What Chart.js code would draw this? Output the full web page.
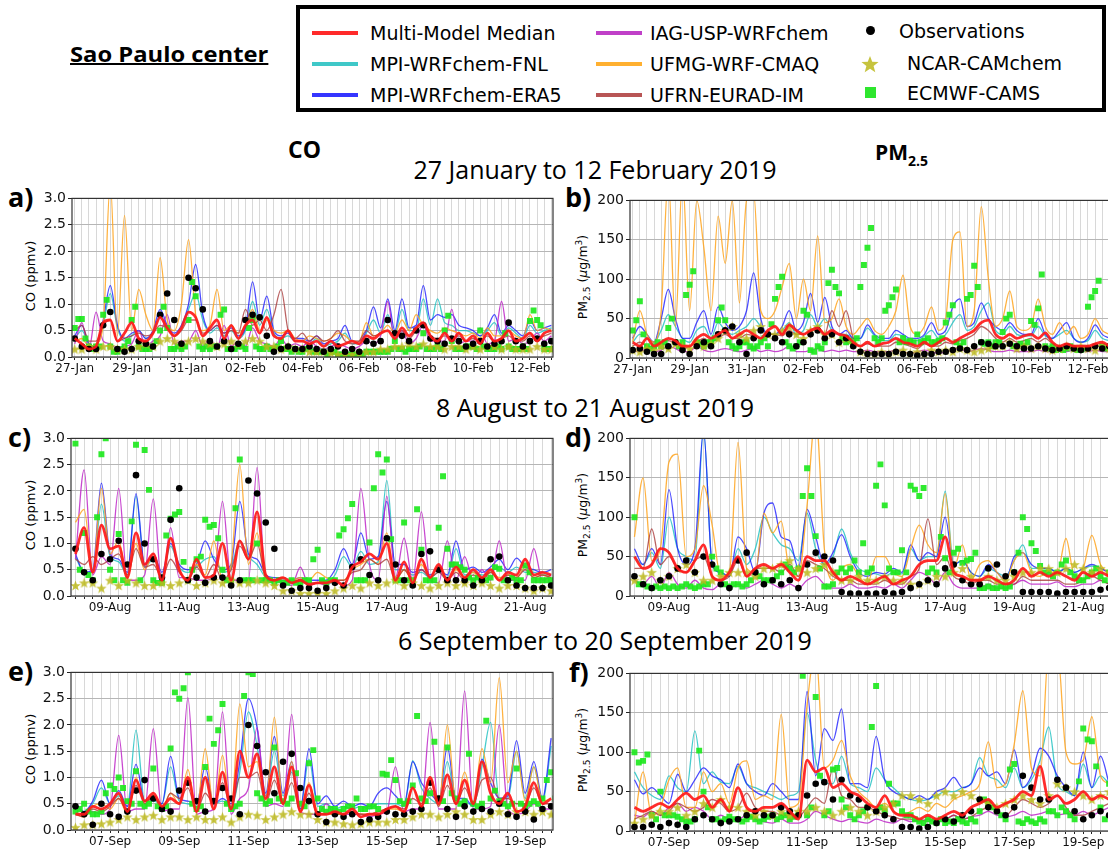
<!DOCTYPE html>
<html>
<head>
<meta charset="utf-8">
<script src="https://cdn.jsdelivr.net/npm/chart.js@4"></script>
<style>
  body { margin: 0; width: 1108px; height: 852px; overflow: hidden; position: relative; background: #fff; font-family: 'DejaVu Sans', sans-serif; color: #000; }
  .abs { position: absolute; white-space: nowrap; }
  #legend { position: absolute; left: 296px; top: 5px; width: 802px; height: 99px; border: 4px solid #000; }
  .lg-line { position: absolute; height: 4px; width: 46px; }
  .lg-text { position: absolute; font-size: 19px; line-height: 22px; white-space: nowrap; }
  .title { position: absolute; width: 600px; text-align: center; font-family: 'Open Sans', sans-serif; font-size: 25px; line-height: 28px; }
  .letter { position: absolute; font-family: 'Open Sans', sans-serif; font-weight: bold; font-size: 27px; line-height: 30px; }
  .ylab { position: absolute; transform: translate(-50%, -50%) rotate(-90deg); white-space: nowrap; font-size: 13px; }
</style>
</head>
<body>

<div class="abs" style="left:70px; top:38px; font-family:'Open Sans',sans-serif; font-weight:bold; font-size:22px; text-decoration:underline; text-decoration-thickness:2px; transform:scaleX(1.08); transform-origin:left;">Sao Paulo center</div>

<div id="legend">
  <div class="lg-line" style="left:12px; top:22px; background:#ff2a2a;"></div>
  <div class="lg-text" style="left:70px; top:13px;">Multi-Model Median</div>
  <div class="lg-line" style="left:12px; top:53px; background:#3fc8c8;"></div>
  <div class="lg-text" style="left:70px; top:44px;">MPI-WRFchem-FNL</div>
  <div class="lg-line" style="left:12px; top:84px; background:#3535ff;"></div>
  <div class="lg-text" style="left:70px; top:75px;">MPI-WRFchem-ERA5</div>

  <div class="lg-line" style="left:296px; top:22px; background:#c040c8;"></div>
  <div class="lg-text" style="left:350px; top:13px;">IAG-USP-WRFchem</div>
  <div class="lg-line" style="left:296px; top:53px; background:#ffb030;"></div>
  <div class="lg-text" style="left:350px; top:44px;">UFMG-WRF-CMAQ</div>
  <div class="lg-line" style="left:296px; top:84px; background:#b85555;"></div>
  <div class="lg-text" style="left:350px; top:75px;">UFRN-EURAD-IM</div>

  <div style="position:absolute; left:566px; top:17px; width:9px; height:9px; border-radius:50%; background:#000;"></div>
  <div class="lg-text" style="left:599px; top:11px;">Observations</div>
  <canvas id="lgStar" width="18" height="18" style="position:absolute; left:561px; top:46px;"></canvas>
  <div class="lg-text" style="left:607px; top:43px;">NCAR-CAMchem</div>
  <div style="position:absolute; left:565px; top:78px; width:11px; height:11px; background:#2ee62e;"></div>
  <div class="lg-text" style="left:607px; top:73px;">ECMWF-CAMS</div>
</div>

<div class="abs" style="left:288px; top:133px; font-family:'Open Sans',sans-serif; font-weight:bold; font-size:23px;">CO</div>
<div class="abs" style="left:875px; top:138px; font-family:'Open Sans',sans-serif; font-weight:bold; font-size:21px;">PM<span style="font-size:14px; position:relative; top:6px;">2.5</span></div>

<div class="title" style="left:295px; top:155px;">27 January to 12 February 2019</div>
<div class="title" style="left:295px; top:393px;">8 August to 21 August 2019</div>
<div class="title" style="left:305px; top:626px;">6 September to 20 September 2019</div>

<div class="letter" style="left:8px; top:182px;">a)</div>
<div class="letter" style="left:565px; top:182px;">b)</div>
<div class="letter" style="left:8px; top:422px;">c)</div>
<div class="letter" style="left:565px; top:422px;">d)</div>
<div class="letter" style="left:8px; top:656px;">e)</div>
<div class="letter" style="left:569px; top:657px;">f)</div>

<div class="ylab" style="left:30px; top:276px;">CO (ppmv)</div>
<div class="ylab" style="left:30px; top:515px;">CO (ppmv)</div>
<div class="ylab" style="left:30px; top:749px;">CO (ppmv)</div>
<div class="ylab" style="left:583px; top:277px; font-size:12.5px;">PM<sub style="font-size:9px;">2.5</sub> (<i>μ</i>g/m<sup style="font-size:9px;">3</sup>)</div>
<div class="ylab" style="left:583px; top:515px; font-size:12.5px;">PM<sub style="font-size:9px;">2.5</sub> (<i>μ</i>g/m<sup style="font-size:9px;">3</sup>)</div>
<div class="ylab" style="left:583px; top:750px; font-size:12.5px;">PM<sub style="font-size:9px;">2.5</sub> (<i>μ</i>g/m<sup style="font-size:9px;">3</sup>)</div>

<script>
// tick labels (one every 48 h)
const janTicks = ['27-Jan', '29-Jan', '31-Jan', '02-Feb', '04-Feb', '06-Feb', '08-Feb', '10-Feb', '12-Feb'];
const augTicks = ['09-Aug', '11-Aug', '13-Aug', '15-Aug', '17-Aug', '19-Aug', '21-Aug'];
const sepTicks = ['07-Sep', '09-Sep', '11-Sep', '13-Sep', '15-Sep', '17-Sep', '19-Sep'];

// ---- 27 Jan - 12 Feb, CO (ppmv), 6-hourly (CAMS 3-hourly)
const janCoMedian = [0.35,0.25,0.15,0.2, 0.65,0.7,0.3,0.45, 0.65,0.35,0.3,0.45, 0.75,0.55,0.4,0.55, 0.85,0.75,0.4,0.55, 0.7,0.35,0.6,0.35, 0.6,0.7,0.45,0.75, 0.4,0.35,0.5,0.3,
  0.3,0.25,0.3,0.2, 0.3,0.2,0.25,0.3, 0.25,0.4,0.35,0.45, 0.5,0.35,0.55,0.4, 0.55,0.65,0.4,0.3, 0.45,0.3,0.45,0.3, 0.4,0.25,0.45,0.3, 0.35,0.5,0.3,0.35, 0.45,0.3,0.45,0.5];
const janCoFnl = [0.35,0.5,0.25,0.2, 0.6,1.2,0.55,0.3, 0.4,0.5,0.35,0.45, 0.8,0.55,0.4,0.55, 0.9,1.2,0.7,0.45, 0.55,0.4,0.5,0.35, 0.5,1.05,0.6,0.9, 0.45,0.35,0.4,0.3,
  0.3,0.25,0.35,0.2, 0.25,0.3,0.45,0.25, 0.25,0.45,0.7,0.45, 0.8,0.45,0.9,0.5, 0.5,1.1,0.6,1.1, 0.65,0.6,0.5,0.5, 0.45,0.4,0.5,0.65, 0.4,0.55,0.45,0.35, 0.6,0.45,0.5,0.55];
const janCoEra5 = [0.4,0.6,0.25,0.2, 0.7,1.35,0.6,0.35, 0.45,0.5,0.35,0.5, 0.9,0.6,0.45,0.6, 1.0,1.75,0.8,0.5, 0.6,0.45,0.55,0.4, 0.55,1.42,0.7,1.15, 0.5,0.4,0.45,0.35,
  0.35,0.3,0.4,0.25, 0.3,0.35,0.6,0.3, 0.3,0.5,0.95,0.55, 1.1,0.5,1.1,0.55, 0.6,1.35,0.7,0.8, 0.75,0.8,0.6,0.55, 0.5,0.4,0.55,0.8, 0.45,0.6,0.5,0.4, 0.7,0.5,0.55,0.6];
const janCoIag = [0.25,0.65,0.15,0.85, 0.3,0.25,0.15,0.2, 0.25,0.5,0.2,0.3, 0.4,0.8,0.25,0.3, 0.3,0.5,0.2,0.35, 0.15,0.6,0.2,0.3, 0.2,0.55,0.3,0.25, 0.2,0.35,0.2,0.25,
  0.2,0.3,0.2,0.15, 0.2,0.25,0.2,0.15, 0.2,0.3,0.25,0.4, 1.05,0.3,0.5,0.25, 0.35,0.6,0.3,0.3, 0.3,0.9,0.25,0.3, 0.3,0.55,0.25,0.3, 1.05,0.3,0.35,0.25, 0.3,0.45,0.3,0.4];
const janCoUfmg = [0.3,0.35,0.2,0.25, 0.6,3.3,0.4,2.68, 0.5,1.28,0.8,0.5, 1.88,0.7,0.5,1.0, 2.22,0.8,0.5,0.6, 1.28,0.5,0.6,0.45, 0.6,0.9,0.5,0.7, 0.5,0.45,0.5,0.35,
  0.3,0.4,0.35,0.3, 0.35,0.45,0.4,0.3, 0.3,0.65,0.4,0.45, 0.6,0.45,0.7,0.5, 0.8,0.6,0.5,0.45, 0.55,0.5,0.45,0.4, 0.45,0.35,0.55,0.4, 0.4,0.5,0.4,0.35, 0.8,0.5,0.55,0.5];
const janCoUfrn = [0.5,0.6,0.3,0.3, 0.6,0.7,0.3,0.35, 0.4,0.45,0.4,0.45, 0.6,0.55,0.4,0.5, 0.7,0.7,0.45,0.5, 0.6,0.45,0.5,0.45, 0.9,0.6,0.7,0.5, 0.8,1.28,0.5,0.35,
  0.45,0.3,0.4,0.3, 0.35,0.5,0.3,0.25, 0.3,0.5,0.4,0.45, 0.5,0.4,0.5,0.35, 0.5,0.6,0.4,0.35, 0.4,0.35,0.4,0.3, 0.35,0.3,0.4,0.3, 0.35,0.4,0.3,0.3, 0.4,0.35,0.4,0.45];
const janCoObs = [0.35,0.2,0.15,0.15, 0.6,0.85,0.15,0.1, 0.15,0.3,0.25,0.2, 0.8,1.2,0.7,0.25, 1.5,1.3,0.9,0.3, 0.2,0.3,0.15,0.25, 0.7,0.8,0.75,0.4, 0.1,0.15,0.2,0.15,
  0.15,0.2,0.15,0.1, 0.15,0.2,0.1,0.15, 0.1,0.3,0.25,0.3, 0.7,0.45,0.4,0.3, 0.5,0.6,0.35,0.3, 0.25,0.35,0.3,0.2, 0.25,0.3,0.2,0.25, 0.3,0.65,0.3,0.2, 0.3,0.35,0.25,0.3];
const janCoNcar = [0.15,0.15,0.2,0.15, 0.2,0.2,0.15,0.15, 0.15,0.2,0.25,0.2, 0.3,0.35,0.3,0.25, 0.3,0.35,0.3,0.25, 0.2,0.25,0.3,0.25, 0.3,0.35,0.3,0.2, 0.2,0.15,0.2,0.15,
  0.15,0.1,0.1,0.1, 0.08,0.05,0.05,0.05, 0.08,0.1,0.1,0.15, 0.15,0.2,0.2,0.25, 0.2,0.25,0.2,0.2, 0.15,0.2,0.2,0.15, 0.2,0.15,0.2,0.2, 0.15,0.2,0.15,0.15, 0.15,0.2,0.15,0.15];
const janCoCams = [0.55,0.72,0.72,0.35,0.2,0.15,0.2,0.2, 0.8,1.08,0.2,0.1,0.1,0.15,0.2,0.3, 0.7,0.95,0.2,0.15,0.15,0.15,0.2,0.3, 0.5,0.95,0.55,0.15,0.15,0.2,0.15,0.2,
  0.7,1.42,1.15,0.2,0.15,0.2,0.15,0.2, 0.2,0.8,0.9,0.15,0.15,0.15,0.2,0.2, 0.15,0.55,0.7,0.2,0.15,0.15,0.2,0.15, 0.15,0.2,0.3,0.15,0.15,0.1,0.15,0.1,
  0.1,0.15,0.2,0.1,0.1,0.1,0.1,0.05, 0.1,0.1,0.05,0.05,0.05,0.05,0.05,0.05, 0.05,0.05,0.1,0.1,0.1,0.1,0.1,0.1, 0.1,0.15,0.3,0.15,0.15,0.1,0.15,0.15,
  0.15,0.2,0.45,0.15,0.15,0.15,0.2,0.15, 0.5,0.78,0.3,0.15,0.15,0.15,0.2,0.2, 0.2,0.15,0.5,0.2,0.15,0.15,0.15,0.2, 0.15,0.45,0.2,0.15,0.15,0.15,0.2,0.15,
  0.68,0.88,0.7,0.6,0.15,0.15,0.15,0.15];

// ---- 27 Jan - 12 Feb, PM2.5 (ug/m3)
const janPmMedian = [20,15,25,15, 20,25,22,15, 15,25,30,25, 30,35,25,30, 35,30,25,35, 40,30,42,35, 30,35,38,30, 35,30,28,20,
  15,20,15,18, 20,25,20,18, 15,20,15,20, 25,20,25,30, 35,45,48,30, 25,30,25,28, 30,25,32,20, 15,18,15,15, 15,18,20,15];
const janPmFnl = [20,30,25,20, 35,55,40,25, 20,35,40,25, 45,35,30,35, 40,50,40,30, 30,35,45,30, 35,55,40,50, 35,30,30,25,
  25,38,28,22, 22,30,28,22, 22,28,35,25, 30,45,55,35, 40,60,70,35, 30,40,30,28, 28,40,28,25, 30,35,25,20, 22,35,25,22];
const janPmEra5 = [25,40,30,20, 50,87,50,25, 25,45,60,30, 65,45,35,40, 60,108,50,30, 30,40,60,35, 45,82,45,77, 40,30,35,25,
  25,42,30,25, 25,35,30,25, 25,30,45,30, 35,65,75,40, 45,70,50,40, 35,45,35,30, 30,50,30,25, 35,45,25,20, 25,42,30,25];
const janPmIag = [10,8,12,8, 10,15,12,8, 8,15,10,8, 10,12,10,8, 10,12,8,10, 8,10,15,8, 8,10,12,8, 10,8,10,8,
  8,10,8,8, 8,10,8,6, 8,10,8,6, 8,10,12,8, 10,12,10,8, 8,10,8,8, 8,10,8,8, 10,8,10,8, 8,10,8,8];
const janPmUfmg = [20,60,30,20, 60,230,40,230, 60,200,140,60, 180,120,200,70, 200,210,60,50, 60,90,120,50, 100,60,155,45, 50,75,40,30,
  40,50,35,30, 40,60,105,40, 30,40,65,35, 50,150,160,40, 60,192,100,40, 50,85,40,35, 40,75,40,30, 45,30,40,25, 30,50,35,30];
const janPmUfrn = [15,20,15,12, 20,22,18,12, 15,20,25,20, 25,30,25,25, 30,28,25,30, 30,28,35,30, 30,35,40,30, 60,40,60,25,
  15,18,15,15, 15,20,18,15, 12,18,15,15, 20,18,22,25, 30,40,35,25, 20,25,20,22, 25,20,25,18, 12,15,12,12, 12,15,15,12];
const janPmObs = [10,12,8,5, 5,15,20,10, 5,15,20,15, 30,35,40,20, 5,25,35,30, 25,20,30,15, 20,30,35,25, 30,20,25,15,
  8,5,5,5, 5,8,5,5, 3,5,5,8, 8,10,12,10, 15,20,18,15, 15,18,15,12, 12,15,12,10, 12,15,12,10, 12,15,12,15];
const janPmNcar = [10,8,12,10, 15,12,18,15, 12,20,15,18, 25,35,40,30, 25,35,40,30, 30,35,40,30, 25,35,40,30, 30,20,25,18,
  8,6,5,8, 5,8,10,6, 8,5,10,8, 10,8,12,10, 8,10,12,15, 15,20,12,15, 12,15,12,10, 12,15,12,15, 12,10,15,12];
const janPmCams = [35,48,72,30,15,12,15,20, 15,20,38,50,20,15,20,80, 93,110,20,18,15,20,20,25, 48,64,48,20,15,12,15,20,
  20,15,12,15,20,25,15,43, 75,90,103,20,15,12,15,20, 60,55,10,8,15,12,20,95, 112,90,82,25,20,22,20,25,
  90,118,140,165,25,20,25,60, 67,77,87,20,25,20,22,20, 30,20,22,25,20,20,22,25, 45,55,67,20,15,20,75,80,
  117,90,20,18,20,15,20,20, 33,50,55,15,15,18,15,20, 47,42,63,106,15,12,15,10, 12,10,12,15,12,10,10,12,
  65,77,85,98,15,12,15,15];

// ---- 8 Aug - 21 Aug, CO
const augCoMedian = [0.8,1.3,0.45,1.35, 0.9,0.95,0.35,1.2, 0.6,0.8,0.3,1.1, 0.5,0.3,0.7,0.35, 0.4,1.0,0.3,1.05, 0.7,1.6,0.4,0.3, 0.35,0.25,0.3,0.22,
  0.25,0.25,0.3,0.2, 0.55,0.65,0.8,0.7, 1.0,0.3,0.65,0.25, 0.7,0.35,0.6,0.3, 0.55,0.35,0.5,0.35, 0.5,0.3,0.45,0.4, 0.7,0.4,0.45,0.4];
const augCoFnl = [0.75,0.45,0.45,1.75, 0.75,0.65,0.4,1.9, 0.55,0.7,0.4,0.95, 0.55,0.45,0.55,0.7, 0.75,0.45,0.55,1.05, 0.75,0.6,0.35,0.3, 0.3,0.25,0.3,0.25,
  0.25,0.25,0.4,0.75, 0.55,0.85,0.6,0.65, 2.2,0.5,0.5,0.4, 0.45,0.35,0.45,0.35, 0.9,0.4,0.45,0.4, 0.45,0.55,0.45,0.55, 0.45,0.45,0.4,0.4];
const augCoEra5 = [0.8,0.45,0.5,2.15, 0.8,0.7,0.45,1.95, 0.6,0.8,0.45,1.0, 0.6,0.5,0.6,1.05, 0.7,0.5,0.6,1.8, 0.8,0.7,0.4,0.35, 0.35,0.3,0.35,0.3,
  0.3,0.3,0.5,0.9, 0.6,1.2,0.7,0.75, 1.8,0.6,0.6,0.45, 0.5,0.4,0.5,0.4, 1.05,0.5,0.55,0.45, 0.55,0.7,0.5,0.72, 0.55,0.5,0.45,0.5];
const augCoIag = [0.7,2.4,0.4,0.75, 0.6,2.05,0.3,0.3, 0.4,1.85,0.2,1.3, 0.35,0.35,0.3,0.3, 0.35,1.8,0.3,0.3, 0.3,2.45,0.25,0.3, 0.25,0.2,0.55,0.2,
  0.25,0.2,0.3,0.2, 0.3,2.05,0.6,0.3, 1.9,0.35,1.1,0.3, 1.6,0.3,0.25,1.05, 0.3,0.75,0.3,0.5, 0.3,1.05,0.3,0.3, 0.3,0.9,0.3,0.4];
const augCoUfmg = [1.4,1.65,0.45,2.05, 0.8,1.05,0.35,1.0, 0.5,0.8,0.3,1.1, 0.5,0.3,0.6,0.4, 1.05,0.3,0.6,2.5, 0.6,1.2,0.3,0.3, 0.35,0.3,0.35,0.3,
  0.45,0.35,0.3,0.3, 0.5,0.6,0.7,0.6, 1.2,0.3,0.5,0.3, 0.6,0.35,0.55,0.3, 0.5,0.35,0.45,0.3, 0.45,0.35,0.4,0.35, 0.55,0.35,0.4,0.35];
const augCoUfrn = [0.7,0.6,0.75,0.6, 0.7,0.8,0.4,0.9, 0.55,0.6,0.35,0.7, 0.45,0.3,0.55,0.35, 0.6,0.3,0.5,0.95, 0.7,1.0,0.35,0.3, 0.3,0.25,0.3,0.2,
  0.25,0.25,0.3,0.3, 0.45,0.5,0.7,0.6, 0.7,0.3,0.5,0.3, 0.5,0.35,0.45,0.3, 0.45,0.3,0.4,0.3, 0.45,0.3,0.4,0.35, 0.5,0.35,0.4,0.35];
const augCoObs = [0.9,0.45,0.3,0.8, 0.7,1.05,0.6,2.3, 1.0,0.7,0.35,1.45, 2.05,0.3,0.35,0.25, 0.35,0.35,0.2,0.3, 2.2,1.95,1.4,0.9, 0.2,0.1,0.15,0.15,
  0.1,0.15,0.25,0.2, 0.55,0.7,0.4,0.3, 1.1,0.6,0.3,0.2, 0.8,0.85,0.5,0.3, 0.3,0.3,0.2,0.3, 0.7,0.75,0.3,0.2, 0.15,0.15,0.15,0.2];
const augCoNcar = [0.2,0.25,0.25,0.15, 0.3,0.2,0.3,0.25, 0.2,0.2,0.25,0.2, 0.25,0.3,0.2,0.25, 0.3,0.25,0.3,0.25, 0.25,0.3,0.25,0.2, 0.1,0.1,0.05,0.05,
  0.05,0.05,0.1,0.15, 0.2,0.15,0.25,0.2, 0.25,0.3,0.2,0.25, 0.2,0.15,0.2,0.25, 0.2,0.25,0.2,0.25, 0.2,0.15,0.2,0.2, 0.15,0.1,0.15,0.1];
const augCoCams = [2.9,0.5,1.2,0.4,0.3,1.5,2.7,3.0, 0.5,0.3,1.18,0.3,0.25,1.42,2.88,0.3, 2.78,2.02,0.3,0.25,0.25,1.15,1.47,1.55, 1.6,0.65,0.3,0.5,0.7,0.75,1.45,1.32,
  1.35,1.1,0.5,0.3,0.3,1.67,2.6,0.3, 0.3,0.3,1.0,0.3,0.3,0.3,0.25,0.3, 0.25,0.25,0.3,0.25,0.25,0.3,0.3,0.7, 0.88,0.3,0.25,0.3,0.3,1.15,1.27,1.48,
  1.75,0.3,0.3,0.3,1.02,2.05,2.7,2.35, 2.6,1.08,0.3,0.3,1.4,0.3,0.3,1.65, 0.88,0.3,0.3,0.3,1.3,2.28,0.9,0.6, 0.6,0.55,0.5,0.35,0.3,0.35,0.3,0.3,
  0.35,0.55,0.52,0.3,0.3,0.35,0.3,0.3, 0.58,0.45,0.3,0.3,0.3,0.3,0.3,0.3];

// ---- 8 Aug - 21 Aug, PM2.5
const augPmMedian = [50,35,40,60, 55,35,30,45, 65,25,20,30, 50,25,35,40, 35,40,30,20, 50,45,45,30, 20,25,20,15,
  20,25,15,20, 25,40,45,45, 75,30,25,20, 20,25,20,15, 20,35,25,30, 25,30,25,20, 30,25,30,25];
const augPmFnl = [50,40,55,35, 100,60,50,45, 210,40,30,25, 60,40,60,100, 80,65,60,45, 105,60,40,50, 85,55,35,30,
  28,25,30,28, 60,45,50,50, 133,40,45,30, 25,35,30,25, 45,65,35,35, 35,30,35,30, 35,38,35,30];
const augPmEra5 = [60,40,60,40, 135,60,40,60, 210,40,30,25, 75,60,30,105, 118,75,70,35, 110,75,40,55, 78,50,30,25,
  30,28,35,30, 65,45,55,50, 100,40,45,30, 25,40,30,20, 50,55,40,35, 35,30,35,30, 35,40,35,30];
const augPmIag = [20,15,25,10, 30,15,10,20, 10,8,15,10, 15,10,15,20, 15,10,15,10, 20,25,15,10, 10,15,10,10,
  12,10,15,10, 20,30,25,15, 30,15,10,10, 10,15,10,10, 15,20,15,15, 15,18,12,12, 15,15,20,15];
const augPmUfmg = [75,150,45,60, 170,180,50,60, 140,90,25,30, 195,35,30,105, 80,95,30,25, 115,230,60,20, 35,40,25,15,
  50,50,30,25, 60,90,65,55, 130,35,65,20, 40,45,30,20, 45,55,30,25, 30,30,73,25, 35,77,40,30];
const augPmUfrn = [35,35,85,40, 50,35,30,45, 50,25,20,25, 45,25,35,35, 35,30,40,25, 45,40,35,25, 20,20,15,15,
  15,20,15,15, 25,35,98,40, 50,25,20,15, 20,20,15,15, 15,25,20,20, 20,20,15,15, 20,25,20,15];
const augPmObs = [25,15,10,20, 25,35,45,30, 50,40,15,10, 45,55,30,15, 20,15,20,10, 40,55,50,45, 5,3,3,3,
  3,5,3,5, 10,15,20,15, 35,40,20,15, 15,35,40,25, 30,5,5,5, 5,3,5,5, 5,5,8,10];
const augPmNcar = [20,25,30,20, 25,35,40,30, 20,20,25,30, 30,30,25,35, 35,40,45,35, 30,35,40,30, 20,20,25,20,
  20,25,20,20, 15,15,20,25, 25,30,35,25, 20,25,20,20, 25,30,30,35, 35,30,35,40, 35,30,35,30];
const augPmCams = [100,15,15,12,10,12,10,12, 10,12,10,12,15,12,10,12, 15,15,50,35,30,15,12,15, 15,12,15,20,30,25,20,20,
  20,25,30,40,35,30,35,127, 162,127,76,35,12,12,15,30, 35,30,35,45,30,67,30,35, 140,167,115,35,30,30,58,30,
  140,135,127,137,30,35,30,75, 48,30,55,60,42,45,47,55, 10,10,12,10,10,12,10,12, 30,55,100,85,67,57,38,30,
  30,25,30,40,45,30,25,20, 20,25,30,35,25,20,30,35];

// ---- 6 Sep - 20 Sep, CO
const sepCoMedian = [0.3,0.3,0.45,0.4, 0.5,0.7,0.35,0.95, 0.55,0.7,0.45,0.6, 0.5,1.0,0.35,1.0, 0.4,1.1,0.4,1.5, 1.0,1.45,0.6,1.2, 0.5,1.2,0.35,0.85,
  0.3,0.3,0.35,0.3, 0.4,0.25,0.3,0.3, 0.4,0.45,0.35,0.8, 0.45,1.0,0.5,1.05, 0.5,0.95,0.5,1.3, 0.7,0.5,0.7,0.35, 0.45,0.9,0.5,0.6];
const sepCoFnl = [0.45,0.35,0.5,0.8, 0.5,0.65,0.45,1.9, 0.55,0.55,0.5,1.2, 0.55,0.5,0.45,1.0, 0.5,0.55,0.45,1.1, 2.25,1.6,0.65,1.5, 0.65,1.1,0.4,1.35,
  0.45,0.5,0.4,0.45, 0.4,0.45,0.4,0.5, 0.5,0.5,0.45,1.32, 0.8,0.6,0.5,1.3, 0.55,0.55,0.45,1.2, 2.05,0.6,0.6,1.5, 0.6,1.2,0.55,1.6];
const sepCoEra5 = [0.5,0.35,0.55,0.95, 0.5,0.75,0.45,1.25, 0.55,0.6,0.5,1.4, 0.6,0.55,0.5,1.2, 0.5,0.6,0.5,1.3, 2.5,1.95,0.7,1.78, 0.7,1.3,0.4,1.55,
  0.5,0.65,0.45,0.55, 0.45,0.5,0.45,0.7, 0.8,0.65,0.5,1.3, 0.9,0.7,0.55,1.58, 0.6,0.6,0.45,1.35, 0.9,0.6,0.65,1.7, 0.7,1.3,0.6,1.75];
const sepCoIag = [0.3,0.3,0.35,0.3, 0.4,1.8,0.35,0.4, 0.4,1.93,0.35,0.4, 0.4,2.52,0.3,0.35, 0.4,2.25,0.3,0.6, 0.8,1.95,0.45,0.5, 0.45,2.2,0.35,0.3,
  0.3,0.5,0.3,0.3, 0.3,0.3,0.25,0.3, 0.35,1.2,0.35,0.4, 0.4,2.05,0.4,0.4, 0.4,2.65,0.4,0.4, 0.45,2.0,0.4,0.3, 0.35,0.5,0.4,0.4];
const sepCoUfmg = [0.3,0.25,0.45,0.5, 0.4,0.6,0.3,1.0, 0.5,0.65,0.4,0.7, 0.5,1.15,0.35,1.55, 0.4,1.42,0.4,2.4, 1.2,1.3,0.5,2.15, 0.5,1.3,0.35,0.9,
  0.35,0.3,0.3,0.3, 0.35,0.3,0.3,0.35, 0.4,0.4,0.35,0.8, 0.5,1.0,0.45,2.0, 0.5,1.1,0.5,1.55, 0.9,2.9,0.9,1.5, 0.55,1.2,0.55,0.6];
const sepCoUfrn = [0.3,0.25,0.4,0.35, 0.45,0.6,0.35,0.85, 0.5,0.65,0.4,0.7, 0.6,0.8,0.35,0.7, 0.5,0.9,0.4,1.0, 1.0,1.1,0.5,0.95, 0.5,0.9,0.35,0.7,
  0.3,0.3,0.35,0.3, 0.35,0.3,0.3,0.35, 0.4,0.45,0.4,0.6, 0.5,0.8,0.45,0.85, 0.5,0.8,0.5,0.95, 1.0,0.6,0.6,0.5, 0.5,0.8,0.5,0.5];
const sepCoObs = [0.45,0.3,0.1,0.5, 0.3,0.25,0.35,0.75, 0.95,0.6,0.4,0.35, 0.75,0.9,0.55,0.35, 0.55,0.8,0.6,0.3, 2.0,1.6,1.1,0.7, 1.3,1.45,0.8,0.55,
  0.3,0.15,0.3,0.25, 0.3,0.15,0.2,0.25, 0.35,0.3,0.3,0.35, 0.4,0.9,0.6,0.4, 0.25,0.45,0.35,0.4, 0.35,0.5,0.3,0.25, 0.35,0.2,0.4,0.45];
const sepCoNcar = [0.05,0.1,0.1,0.12, 0.15,0.2,0.25,0.2, 0.25,0.28,0.2,0.25, 0.25,0.2,0.25,0.2, 0.2,0.25,0.15,0.25, 0.3,0.28,0.2,0.25, 0.3,0.35,0.3,0.3,
  0.2,0.15,0.15,0.12, 0.1,0.12,0.15,0.15, 0.15,0.2,0.2,0.25, 0.3,0.3,0.25,0.3, 0.35,0.3,0.2,0.2, 0.3,0.35,0.3,0.35, 0.35,0.3,0.35,0.3];
const sepCoCams = [0.35,0.4,0.5,0.35,0.3,0.3,0.35,0.7, 0.85,0.78,1.0,0.8,0.55,0.5,1.12,0.5, 0.45,0.5,1.17,0.45,0.4,0.45,1.55,2.62, 2.5,2.7,3.0,0.5,0.4,0.45,1.2,2.12,
  1.64,1.9,2.4,0.5,0.4,0.45,0.5,2.55, 3.0,2.97,0.7,0.6,0.5,0.55,1.57,0.6, 0.55,0.5,0.6,1.08,0.5,0.45,1.27,1.52, 0.6,0.4,0.35,0.4,0.4,0.35,0.4,0.45,
  0.45,0.6,0.4,0.4,0.45,0.45,0.4,1.07, 1.05,1.33,0.95,0.55,0.5,0.55,0.85,2.17, 0.6,0.55,0.7,1.68,0.6,0.55,1.57,0.7, 0.6,0.5,0.55,1.45,0.5,0.45,0.5,2.08,
  0.6,0.75,0.55,0.5,0.45,0.5,1.17,0.5, 0.45,0.5,0.55,0.5,0.6,0.95,1.1,0.6];

// ---- 6 Sep - 20 Sep, PM2.5
const sepPmMedian = [30,25,30,35, 30,40,48,40, 45,30,40,25, 55,30,25,30, 30,35,25,15, 90,75,80,55, 60,50,45,35,
  30,45,25,20, 20,15,20,15, 20,25,20,30, 35,40,30,35, 40,50,45,82, 40,45,35,40, 50,40,45,40];
const sepPmFnl = [75,55,45,40, 70,55,50,127, 60,75,62,60, 82,60,55,50, 45,40,45,50, 150,90,60,60, 95,60,55,50,
  80,65,55,45, 40,38,40,45, 50,50,55,60, 93,70,65,55, 80,55,65,90, 132,60,50,45, 85,55,70,60];
const sepPmEra5 = [65,47,55,45, 35,72,50,65, 80,70,65,55, 85,60,50,45, 60,50,40,40, 177,70,130,115, 155,60,60,55,
  120,65,50,45, 40,45,40,50, 55,68,55,60, 80,70,75,60, 103,55,70,105, 95,70,55,45, 100,55,95,60];
const sepPmIag = [20,18,25,20, 30,35,25,30, 25,15,20,15, 15,20,15,12, 10,15,10,10, 15,25,20,15, 12,15,12,10,
  15,12,10,15, 12,15,12,15, 15,20,15,18, 20,25,20,18, 20,25,20,22, 25,20,22,20, 25,20,25,30];
const sepPmUfmg = [10,75,20,30, 65,80,30,30, 75,50,60,35, 80,89,40,45, 40,148,30,35, 160,230,80,90, 115,70,50,40,
  30,35,25,20, 25,30,25,35, 30,40,45,50, 60,113,55,60, 110,178,80,70, 230,230,100,85, 90,145,70,60];
const sepPmUfrn = [15,20,25,20, 25,35,30,25, 30,40,35,25, 30,48,30,25, 25,20,20,18, 30,42,35,80, 45,40,30,30,
  25,20,18,15, 15,12,15,15, 15,20,15,18, 25,30,25,20, 30,40,35,30, 35,45,30,20, 20,25,30,35];
const sepPmObs = [5,5,8,5, 10,8,5,15, 20,15,10,12, 15,20,25,20, 20,30,25,20, 45,60,62,40, 65,45,40,30,
  25,20,15,5, 5,3,5,10, 15,12,20,25, 40,30,25,20, 30,70,55,40, 40,65,55,25, 15,20,25,20];
const sepPmNcar = [10,15,20,25, 25,30,20,25, 35,30,40,30, 30,25,20,25, 20,25,20,25, 25,30,25,20, 25,30,25,20,
  25,30,35,45, 45,40,35,45, 50,45,50,45, 40,35,30,35, 40,45,40,35, 45,60,55,50, 45,40,45,50];
const sepPmCams = [100,87,89,97,20,15,50,20, 20,20,18,15,12,12,15,102, 50,30,15,15,12,15,18,15, 15,12,15,18,15,12,15,18,
  20,15,18,20,15,18,20,197, 20,30,170,70,20,25,78,80, 40,30,20,15,20,25,30,132, 184,30,25,60,35,35,25,20,
  20,15,12,10,15,12,10,15, 10,12,10,15,12,10,15,12, 25,40,35,30,25,20,15,78, 85,12,10,15,12,10,15,12,
  25,25,20,30,25,20,15,63, 130,116,114,82,30,15,60,20];

// ---------------------------------------------------------------
Chart.defaults.font.family = "'DejaVu Sans', sans-serif";
Chart.defaults.color = '#111';

function starImage(size, color) {
  const c = document.createElement('canvas');
  c.width = c.height = size;
  const g = c.getContext('2d');
  g.fillStyle = color;
  g.beginPath();
  for (let i = 0; i < 10; i++) {
    const r = i % 2 ? size * 0.21 : size * 0.5;
    const a = -Math.PI / 2 + i * Math.PI / 5;
    g.lineTo(size / 2 + r * Math.cos(a), size / 2 + r * Math.sin(a) + size * 0.05);
  }
  g.closePath();
  g.fill();
  return c;
}
const starColor = 'rgba(188,184,28,0.85)';
const star = starImage(11, starColor);
document.getElementById('lgStar').getContext('2d').drawImage(starImage(18, starColor), 0, 0);

const pts = (values, step) => values.map((v, i) => ({ x: i * step, y: v }));

const frame = {
  id: 'frame',
  afterDraw(chart) {
    const { ctx, chartArea: a } = chart;
    ctx.save();
    ctx.strokeStyle = '#333';
    ctx.lineWidth = 1.2;
    ctx.strokeRect(a.left, a.top, a.right - a.left, a.bottom - a.top);
    ctx.restore();
  }
};

function panel(p) {
  const L = p.left - 48, T = p.top - 6, W = p.width + 54, H = p.height + 30;
  const canvas = document.createElement('canvas');
  canvas.width = W; canvas.height = H;
  Object.assign(canvas.style, { position: 'absolute', left: L + 'px', top: T + 'px', width: W + 'px', height: H + 'px' });
  document.body.appendChild(canvas);

  const line = (values, color, width) => ({
    data: pts(values, 6), showLine: true, borderColor: color, borderWidth: width,
    pointRadius: 0, fill: false, cubicInterpolationMode: 'monotone'
  });

  new Chart(canvas, {
    type: 'scatter',
    data: {
      datasets: [
        line(p.median, 'rgba(255,25,25,0.92)', 2.8),
        { data: pts(p.obs, 6), pointStyle: 'circle', pointRadius: 3.3, backgroundColor: '#000', borderWidth: 0 },
        { data: pts(p.ncar, 6), pointStyle: star, pointRadius: 5 },
        { data: pts(p.cams, 3), pointStyle: 'rect', pointRadius: 4.2, backgroundColor: 'rgba(30,232,30,0.92)', borderWidth: 0 },
        line(p.ufrn, 'rgba(170,60,60,0.8)', 1.3),
        line(p.ufmg, 'rgba(255,165,30,0.85)', 1.3),
        line(p.iag, 'rgba(190,40,200,0.85)', 1.3),
        line(p.era5, 'rgba(30,30,255,0.8)', 1.3),
        line(p.fnl, 'rgba(40,195,195,0.85)', 1.3)
      ]
    },
    options: {
      responsive: false,
      animation: false,
      events: [],
      layout: { padding: { top: 6, right: 6, left: 0, bottom: 0 } },
      plugins: { legend: { display: false }, tooltip: { enabled: false } },
      scales: {
        x: {
          type: 'linear', min: p.xMin, max: p.xMax, bounds: 'data',
          afterBuildTicks: s => {
            const t = [];
            for (let v = 0; v <= p.xMax; v += 6) t.push({ value: v });
            s.ticks = t;
          },
          afterFit: s => { s.height = 24; },
          border: { display: false },
          grid: { color: '#d8d8d8', lineWidth: 1, drawTicks: true, tickLength: 3, tickColor: '#222', tickWidth: 1 },
          ticks: {
            autoSkip: false, maxRotation: 0, minRotation: 0,
            padding: 2, font: { size: 12 }, color: '#111',
            callback: v => {
              const k = (v - p.firstLabel) / 48;
              return Number.isInteger(k) && k >= 0 && k < p.ticks.length ? p.ticks[k] : '';
            }
          }
        },
        y: {
          min: 0, max: p.yMax,
          afterFit: s => { s.width = 48; },
          border: { display: false },
          grid: { color: '#b6b6b6', lineWidth: 1, tickLength: 4, tickColor: '#222' },
          ticks: {
            stepSize: p.yStep, padding: 2, font: { size: 14 }, color: '#111',
            callback: v => p.yDec ? v.toFixed(1) : String(v)
          }
        }
      }
    },
    plugins: [frame]
  });
}

const coY = { yMax: 3, yStep: 0.5, yDec: true };
const pmY = { yMax: 200, yStep: 50, yDec: false };
const janX = { xMin: -2.3, xMax: 403.4, firstLabel: 0, ticks: janTicks };
const augX = { xMin: -3.1, xMax: 331.3, firstLabel: 24, ticks: augTicks };
const sepX = { xMin: -3.1, xMax: 331.3, firstLabel: 24, ticks: sepTicks };

panel({ left: 72, top: 194, width: 481, height: 163, ...coY, ...janX,
  median: janCoMedian, fnl: janCoFnl, era5: janCoEra5, iag: janCoIag, ufmg: janCoUfmg, ufrn: janCoUfrn, obs: janCoObs, ncar: janCoNcar, cams: janCoCams });
panel({ left: 630, top: 196, width: 481, height: 162, ...pmY, ...janX,
  median: janPmMedian, fnl: janPmFnl, era5: janPmEra5, iag: janPmIag, ufmg: janPmUfmg, ufrn: janPmUfrn, obs: janPmObs, ncar: janPmNcar, cams: janPmCams });
panel({ left: 71, top: 434, width: 482, height: 162, ...coY, ...augX,
  median: augCoMedian, fnl: augCoFnl, era5: augCoEra5, iag: augCoIag, ufmg: augCoUfmg, ufrn: augCoUfrn, obs: augCoObs, ncar: augCoNcar, cams: augCoCams });
panel({ left: 630, top: 434, width: 481, height: 162, ...pmY, ...augX,
  median: augPmMedian, fnl: augPmFnl, era5: augPmEra5, iag: augPmIag, ufmg: augPmUfmg, ufrn: augPmUfrn, obs: augPmObs, ncar: augPmNcar, cams: augPmCams });
panel({ left: 71, top: 668, width: 482, height: 162, ...coY, ...sepX,
  median: sepCoMedian, fnl: sepCoFnl, era5: sepCoEra5, iag: sepCoIag, ufmg: sepCoUfmg, ufrn: sepCoUfrn, obs: sepCoObs, ncar: sepCoNcar, cams: sepCoCams });
panel({ left: 630, top: 669, width: 481, height: 162, ...pmY, ...sepX,
  median: sepPmMedian, fnl: sepPmFnl, era5: sepPmEra5, iag: sepPmIag, ufmg: sepPmUfmg, ufrn: sepPmUfrn, obs: sepPmObs, ncar: sepPmNcar, cams: sepPmCams });
</script>
</body>
</html>
